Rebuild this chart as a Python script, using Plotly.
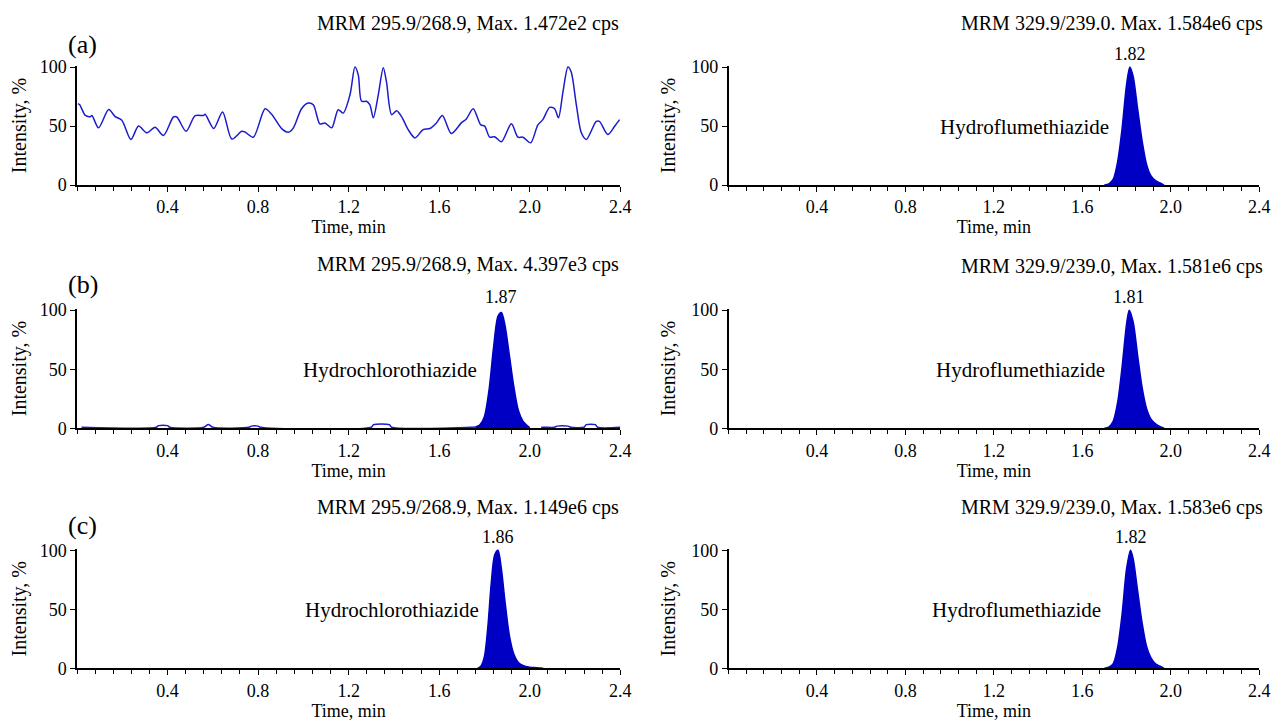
import plotly.graph_objects as go

# ---------------- data ----------------
# (a) blank: noise trace
a_time = [0.004, 0.012, 0.037, 0.059, 0.066, 0.095, 0.140, 0.169, 0.198, 0.238, 0.272,
          0.309, 0.345, 0.382, 0.426, 0.441, 0.482, 0.522, 0.559, 0.566, 0.604, 0.643,
          0.684, 0.728, 0.742, 0.779, 0.831, 0.860, 0.904, 0.934, 0.956, 0.992, 1.022,
          1.044, 1.073, 1.095, 1.125, 1.154, 1.176, 1.206, 1.228, 1.243, 1.257, 1.279,
          1.294, 1.309, 1.331, 1.353, 1.367, 1.390, 1.412, 1.434, 1.463, 1.493, 1.529,
          1.559, 1.588, 1.614, 1.654, 1.698, 1.720, 1.750, 1.784, 1.801, 1.823, 1.845,
          1.875, 1.919, 1.948, 1.970, 2.004, 2.036, 2.058, 2.088, 2.110, 2.127, 2.147,
          2.169, 2.183, 2.206, 2.228, 2.250, 2.294, 2.308, 2.345, 2.375, 2.397]
a_int = [69, 68, 59, 58, 59, 48.5, 64, 58, 55, 38.7, 50,
         44.3, 49, 42, 57.7, 57.7, 45.6, 58.8, 59, 60, 48, 62,
         39, 45.6, 45, 40.6, 64.7, 60, 47.9, 44.8, 48.5, 64.7, 69.5,
         68, 51.8, 52.7, 48.5, 63.9, 61, 76.5, 100, 93, 71, 71,
         68, 57, 76.5, 99.5, 87.7, 59.7, 63, 58, 47, 40, 47,
         48, 52.7, 59, 43.7, 52.7, 56, 64.7, 51, 50, 40.6, 41,
         36.7, 52, 40.6, 40.6, 35.8, 51, 55.5, 65.8, 64.7, 57, 79,
         100, 96, 68, 44.3, 38.7, 54, 54, 42.8, 49.8, 55.5]

# (b) LLOQ hydrochlorothiazide: baseline and peak
b_base_time = [0.02, 0.35, 0.36, 0.40, 0.41, 0.56, 0.58, 0.60, 0.76, 0.77, 0.80, 0.81,
               1.30, 1.31, 1.38, 1.39, 1.74, 1.76, None, 2.05, 2.06, 2.11, 2.12, 2.17,
               2.18, 2.24, 2.25, 2.29, 2.30, 2.40]
b_base_int = [0.8, 0.8, 2.2, 2.2, 0.8, 0.8, 3.2, 0.8, 0.8, 1.8, 1.8, 0.8,
              0.8, 3.0, 3.0, 0.8, 0.8, 1.0, None, 0.6, 0.8, 0.8, 1.8, 1.8,
              0.8, 0.8, 3.0, 3.0, 0.8, 0.8]
b_peak_time = [1.76, 1.78, 1.80, 1.82, 1.84, 1.86, 1.875, 1.89, 1.91, 1.93, 1.95, 1.97, 1.99, 2.00]
b_peak_int = [1, 3, 10, 32, 68, 95, 98, 88, 62, 35, 15, 6, 2, 0.5]

# (c) ULOQ hydrochlorothiazide peak
c_peak_time = [1.77, 1.785, 1.80, 1.815, 1.83, 1.845, 1.86, 1.875, 1.89, 1.91, 1.93, 1.95, 1.97, 2.00, 2.03, 2.06]
c_peak_int = [0, 2, 10, 35, 72, 96, 100, 84, 58, 28, 12, 5, 2.5, 1, 0.5, 0]

# internal standard hydroflumethiazide peaks (right column)
is1_time = [1.70, 1.72, 1.74, 1.76, 1.78, 1.80, 1.815, 1.83, 1.85, 1.87, 1.89, 1.91, 1.93, 1.95, 1.97]
is1_int = [0, 1, 5, 20, 48, 85, 100, 92, 65, 38, 18, 8, 4, 2, 0]
is2_time = [1.70, 1.72, 1.74, 1.76, 1.78, 1.80, 1.812, 1.83, 1.85, 1.87, 1.89, 1.91, 1.93, 1.95, 1.97]
is2_int = [0, 1, 6, 22, 52, 88, 100, 90, 62, 35, 17, 8, 4, 1.5, 0]
is3_time = [1.70, 1.72, 1.74, 1.76, 1.78, 1.80, 1.818, 1.83, 1.85, 1.87, 1.89, 1.91, 1.93, 1.95, 1.97]
is3_int = [0, 1, 4, 18, 46, 84, 100, 93, 66, 39, 19, 9, 4, 2, 0]

mrm_titles = ["MRM 295.9/268.9, Max. 1.472e2 cps", "MRM 329.9/239.0. Max. 1.584e6 cps",
              "MRM 295.9/268.9, Max. 4.397e3 cps", "MRM 329.9/239.0, Max. 1.581e6 cps",
              "MRM 295.9/268.9, Max. 1.149e6 cps", "MRM 329.9/239.0, Max. 1.583e6 cps"]
panel_letters = ["(a)", "(b)", "(c)"]
x_tickvals = [0.4, 0.8, 1.2, 1.6, 2.0, 2.4]
x_ticktext = ["0.4", "0.8", "1.2", "1.6", "2.0", "2.4"]
y_tickvals = [0, 50, 100]

# ---------------- figure ----------------
W, H = 1285, 723
FONT = "Liberation Serif, Times New Roman, Times, serif"
BLUE_LINE = "#1c1ccc"
BLUE_FILL = "#0000c4"


def lx(R):
    return 69.6 + (R - 74) * 1.0054


def ly(R):
    return 1.026 * R - 17.4


def px(R):
    return lx(R) / W


def py(R):
    return 1 - ly(R) / H


YMAX = 101
# left / right column extents in layout pixels
xdom = [[px(74), px(619)], [px(727.6), 1262 / W]]
row_px = [(186, 68), (429, 311), (669, 551)]   # target rows of y=0 and y=100
ydom = []
for y0, y100 in row_px:
    top = y0 - (y0 - y100) * YMAX / 100
    ydom.append([py(y0), py(top)])


def ax_name(i, kind):
    return kind if i == 1 else f"{kind}{i}"


fig = go.Figure()
layout = dict(width=W, height=H, margin=dict(l=0, r=0, t=0, b=0),
              paper_bgcolor="white", plot_bgcolor="white", showlegend=False,
              font=dict(family=FONT, size=18, color="black"))
for r in range(3):
    for c in range(2):
        i = r * 2 + c + 1
        layout[ax_name(i, "xaxis")] = dict(
            domain=xdom[c], anchor=ax_name(i, "y"), range=[0, 2.4],
            tickmode="array", tickvals=x_tickvals, ticktext=x_ticktext,
            ticks="outside", ticklen=5, tickwidth=1, tickcolor="black",
            minor=dict(tickmode="linear", tick0=0, dtick=0.08, ticks="outside",
                       ticklen=4, tickcolor="black", showgrid=False),
            showline=True, linecolor="black", linewidth=1.5, showgrid=False,
            zeroline=False, tickfont=dict(family=FONT, size=18),
            title=dict(text="Time, min", font=dict(family=FONT, size=18), standoff=0))
        layout[ax_name(i, "yaxis")] = dict(
            domain=ydom[r], anchor=ax_name(i, "x"), range=[0, YMAX],
            tickmode="array", tickvals=y_tickvals,
            ticks="outside", ticklen=5, tickwidth=1, tickcolor="black",
            showline=True, linecolor="black", linewidth=1.5, showgrid=False,
            zeroline=False, tickfont=dict(family=FONT, size=18),
            title=dict(text="Intensity, %", font=dict(family=FONT, size=20), standoff=10))
fig.update_layout(**layout)


def add(i, x, y, fill=False):
    fig.add_trace(go.Scatter(
        x=x, y=y, mode="lines", xaxis=ax_name(i, "x"), yaxis=ax_name(i, "y"),
        line=dict(color=BLUE_FILL if fill else BLUE_LINE, width=1.5,
                  shape="spline", smoothing=0.8),
        fill="tozeroy" if fill else None,
        fillcolor=BLUE_FILL if fill else None,
        connectgaps=False, hoverinfo="skip"))


add(1, a_time, a_int)
add(2, is1_time, is1_int, fill=True)
add(3, b_base_time, b_base_int)
add(3, b_peak_time, b_peak_int, fill=True)
add(4, is2_time, is2_int, fill=True)
add(5, c_peak_time, c_peak_int, fill=True)
add(6, is3_time, is3_int, fill=True)

ann = []
title_y = [24, 265, 508]
title_y_r = [24, 267, 508]
for r in range(3):
    ann.append(dict(text=mrm_titles[2 * r], xref="paper", yref="paper",
                    x=px(620), y=py(title_y[r]), xanchor="right", yanchor="middle",
                    showarrow=False, font=dict(family=FONT, size=20)))
    ann.append(dict(text=mrm_titles[2 * r + 1], xref="paper", yref="paper",
                    x=1268 / W, y=py(title_y_r[r]), xanchor="right", yanchor="middle",
                    showarrow=False, font=dict(family=FONT, size=20)))
letter_y = [45, 285, 526]
for r in range(3):
    ann.append(dict(text=panel_letters[r], xref="paper", yref="paper",
                    x=px(63), y=py(letter_y[r]), xanchor="left", yanchor="middle",
                    showarrow=False, font=dict(family=FONT, size=26)))

# retention time labels
rt_labels = [(2, 1.815, "1.82"), (3, 1.875, "1.87"), (4, 1.812, "1.81"),
             (5, 1.86, "1.86"), (6, 1.818, "1.82")]
for i, t, s in rt_labels:
    ann.append(dict(text=s, xref=ax_name(i, "x"), yref=ax_name(i, "y"), x=t, y=100,
                    xanchor="center", yanchor="bottom", yshift=1, showarrow=False,
                    font=dict(family=FONT, size=18)))

# compound labels
cmp_labels = [(2, 1.73, "Hydroflumethiazide"), (3, 1.778, "Hydrochlorothiazide"),
              (4, 1.71, "Hydroflumethiazide"), (5, 1.786, "Hydrochlorothiazide"),
              (6, 1.695, "Hydroflumethiazide")]
for i, t, s in cmp_labels:
    ann.append(dict(text=s, xref=ax_name(i, "x"), yref=ax_name(i, "y"), x=t, y=49,
                    xanchor="right", yanchor="middle", showarrow=False,
                    font=dict(family=FONT, size=21)))

fig.update_layout(annotations=ann)
fig.write_html("out.html")
